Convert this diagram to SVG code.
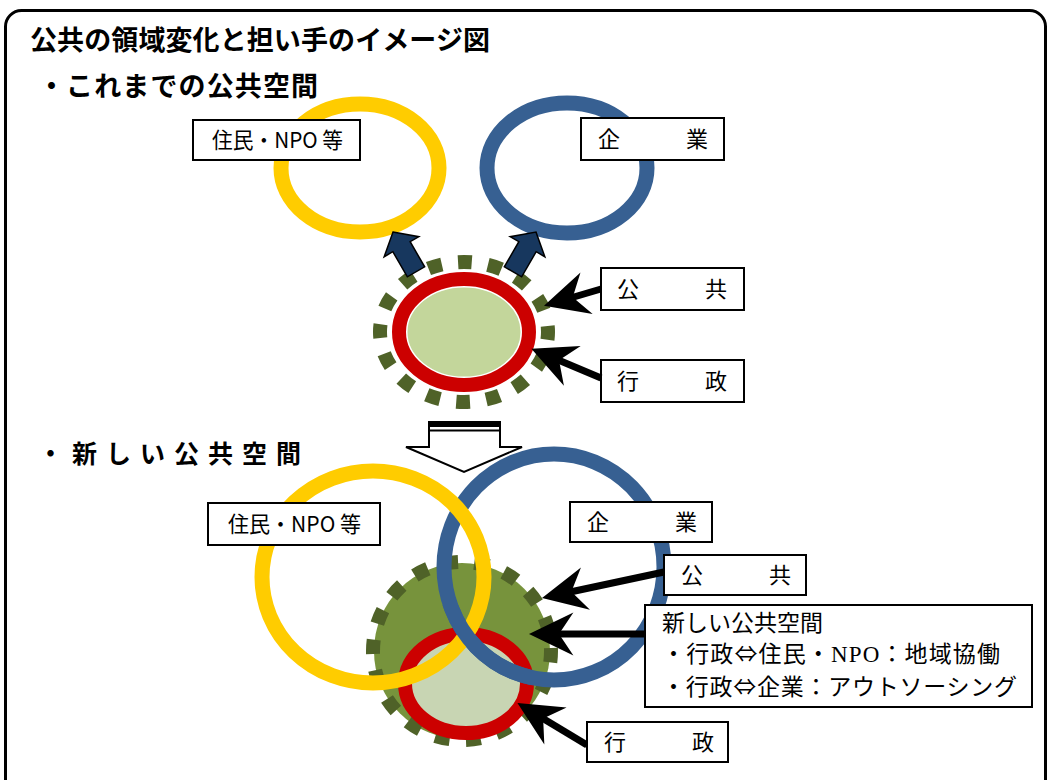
<svg xmlns="http://www.w3.org/2000/svg" width="1049" height="780" viewBox="0 0 1049 780">
<style>
.jp{font-family:"Noto Sans CJK JP","Noto Sans CJK SC",sans-serif;fill:#000}
.head{font-weight:bold;font-size:27px}
.lbl{font-size:22px}
.box{fill:#fff;stroke:#000;stroke-width:2}
.ring{fill:none;stroke-width:15}
.y{stroke:#FFCC00}
.b{stroke:#376092}
.dash{fill:none;stroke:#4F6228;stroke-width:14}
.conn{stroke:#000;stroke-width:7;fill:none;marker-end:url(#ah)}
.blk{fill:#17375E;stroke:#000;stroke-width:1.5;stroke-linejoin:miter}
</style>
<defs>
<marker id="ah" markerUnits="userSpaceOnUse" markerWidth="60" markerHeight="60" viewBox="-20 -25 45 50" refX="0" refY="0" orient="auto" overflow="visible">
<path d="M20,0 L-17,-18 L-5,0 L-17,18 Z" fill="#000"/>
</marker>
<clipPath id="cb"><rect x="420" y="605" width="110" height="80"/></clipPath>
<polygon id="blkarrow" points="0,0 20,17 10,17 10,46 -10,46 -10,17 -20,17"/>
</defs>
<rect x="5.5" y="10.5" width="1040" height="820" rx="16" fill="#fff" stroke="#000" stroke-width="3"/>
<g id="title">
<text class="jp head" x="30" y="50" textLength="460">公共の領域変化と担い手のイメージ図</text>
<text class="jp head" x="38" y="96" textLength="280">・これまでの公共空間</text>
<text class="jp head" x="38" y="463" style="font-size:25px;letter-spacing:9px">・新しい公共空間</text>
</g>
<!-- top section -->
<g id="top-yellow"><ellipse class="ring y" cx="360" cy="168" rx="79" ry="64"/></g>
<g id="top-blue"><ellipse class="ring b" cx="567" cy="168" rx="80" ry="65"/></g>
<g id="top-public">
<ellipse class="dash" cx="464" cy="332" rx="84" ry="70" pathLength="160" stroke-dasharray="4.6 5.4" stroke-dashoffset="2"/>
<ellipse cx="464" cy="332" rx="65" ry="53" fill="#C3D69B" stroke="#fff" stroke-width="17"/>
<ellipse cx="464" cy="332" rx="65" ry="53" fill="none" stroke="#CC0000" stroke-width="14"/>
</g>
<g id="top-arrows">
<use href="#blkarrow" class="blk" transform="translate(393,232) rotate(-30)"/>
<use href="#blkarrow" class="blk" transform="translate(536,232) rotate(30)"/>
</g>
<g id="top-label-citizens"><rect class="box" x="193" y="120" width="167" height="40"/><text class="jp lbl" x="212" y="148" textLength="131" lengthAdjust="spacingAndGlyphs">住民・NPO 等</text></g>
<g id="top-label-company"><rect class="box" x="581" y="118" width="143" height="42"/><text class="jp lbl" x="598" y="147">企　　　業</text></g>
<g id="top-label-public"><rect class="box" x="601" y="268" width="143" height="42"/><text class="jp lbl" x="617" y="297">公　　　共</text></g>
<g id="top-label-admin"><rect class="box" x="601" y="360" width="143" height="42"/><text class="jp lbl" x="617" y="389">行　　　政</text></g>
<!-- transition arrow -->
<g id="down-arrow">
<polygon points="429,422 500,422 500,447 522,447 464,472 406,447 429,447" fill="#fff" stroke="#000" stroke-width="2" stroke-linejoin="miter"/>
<rect x="429" y="421" width="71" height="6" fill="#000"/>
<line x1="429" y1="430.5" x2="500" y2="430.5" stroke="#000" stroke-width="2"/>
</g>
<!-- bottom section -->
<g id="bottom-public">
<circle cx="462" cy="651" r="88" fill="#77933C"/>
<circle class="dash" cx="462" cy="651" r="89" pathLength="180" stroke-dasharray="4.7 5.3" stroke-dashoffset="1"/>
</g>
<g id="bottom-admin">
<ellipse cx="466" cy="683.5" rx="61" ry="49.5" fill="#C8D5B3" stroke="#CC0000" stroke-width="14"/>
</g>
<g id="bottom-blue"><ellipse class="ring b" cx="554" cy="567" rx="110" ry="113"/></g>
<g id="bottom-yellow"><ellipse class="ring y" cx="373" cy="577" rx="111" ry="106"/></g>
<g id="bottom-blue-over" clip-path="url(#cb)"><ellipse class="ring b" cx="554" cy="567" rx="110" ry="113"/></g>
<g id="connectors">
<line class="conn" x1="601" y1="289" x2="567" y2="299"/>
<line class="conn" x1="601" y1="378" x2="553.5" y2="358"/>
<line class="conn" x1="664" y1="572" x2="565.5" y2="593"/>
<line class="conn" x1="645" y1="634" x2="553" y2="634"/>
<line class="conn" x1="587" y1="745" x2="538" y2="715.5"/>
</g>
<g id="bottom-label-citizens"><rect class="box" x="208" y="503" width="172" height="42"/><text class="jp lbl" x="228" y="532" textLength="133" lengthAdjust="spacingAndGlyphs">住民・NPO 等</text></g>
<g id="bottom-label-company"><rect class="box" x="570" y="502" width="142" height="40"/><text class="jp lbl" x="587" y="530">企　　　業</text></g>
<g id="bottom-label-public"><rect class="box" x="664" y="555" width="142" height="40"/><text class="jp lbl" x="681" y="583">公　　　共</text></g>
<g id="bottom-label-new"><rect class="box" x="645" y="605" width="387" height="102"/>
<text class="jp" style="font-size:23px" x="662" y="631">新しい公共空間</text>
<text class="jp" style="font-size:23px" x="662" y="662" textLength="338">・行政⇔住民・<tspan style="font-family:'Liberation Serif',serif">NPO</tspan>：地域協働</text>
<text class="jp" style="font-size:23px" x="662" y="695" textLength="355">・行政⇔企業：アウトソーシング</text>
</g>
<g id="bottom-label-admin"><rect class="box" x="587" y="722" width="141" height="40"/><text class="jp lbl" x="604" y="750">行　　　政</text></g>
</svg>
